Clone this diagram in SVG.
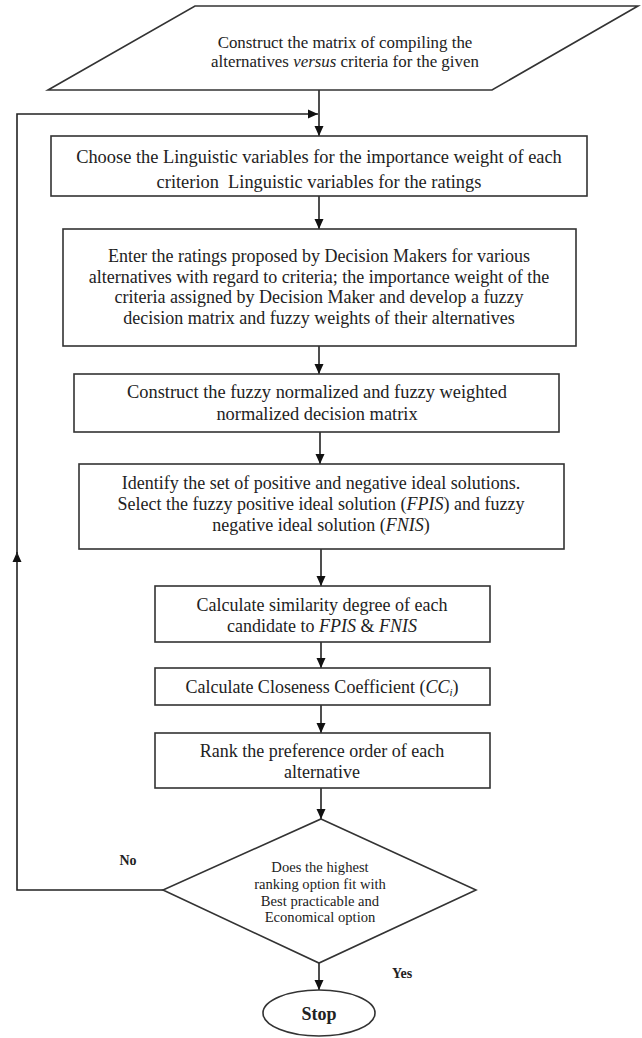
<svg xmlns="http://www.w3.org/2000/svg" width="642" height="1038" viewBox="0 0 642 1038">
<style>
.shape{fill:#fff;stroke:#333;stroke-width:1.6}
.conn{fill:none;stroke:#222;stroke-width:1.6}
.t{font-family:"Liberation Serif","Times New Roman",serif;fill:#222;text-anchor:middle}
.b18{font-size:18px}
.b1{font-size:18.4px}
.p{font-size:16.9px}
.d{font-size:14.6px}
.lbl{font-size:14px;font-weight:bold}
.it{font-style:italic}
</style>
<defs>
<marker id="ah" viewBox="0 0 10 10" refX="10" refY="5" markerWidth="10" markerHeight="10" markerUnits="userSpaceOnUse" orient="auto">
<path d="M0,0.5 L10,5 L0,9.5 Z" fill="#111"/>
</marker>
</defs>
<rect width="642" height="1038" fill="#fff"/>

<g id="connectors">
<line class="conn" x1="319" y1="90" x2="319" y2="136" marker-end="url(#ah)"/>
<line class="conn" x1="319" y1="196" x2="319" y2="229" marker-end="url(#ah)"/>
<line class="conn" x1="319" y1="346" x2="319" y2="374" marker-end="url(#ah)"/>
<line class="conn" x1="320" y1="432" x2="320" y2="464" marker-end="url(#ah)"/>
<line class="conn" x1="321" y1="549" x2="321" y2="586" marker-end="url(#ah)"/>
<line class="conn" x1="321" y1="642" x2="321" y2="668" marker-end="url(#ah)"/>
<line class="conn" x1="321" y1="705" x2="321" y2="733" marker-end="url(#ah)"/>
<line class="conn" x1="321" y1="788" x2="321" y2="819" marker-end="url(#ah)"/>
<line class="conn" x1="319" y1="963" x2="319" y2="990" marker-end="url(#ah)"/>
<path class="conn" d="M163,890 H17 V552" marker-end="url(#ah)"/>
<path class="conn" d="M17,556 V114 H318" marker-end="url(#ah)"/>
</g>

<g id="input">
<polygon class="shape" points="195,6 638,6 492,90 48,90"/>
<text class="t p" x="345" y="48">Construct the matrix of compiling the</text>
<text class="t p" x="345" y="67">alternatives <tspan class="it">versus</tspan> criteria for the given</text>
</g>

<g id="box1">
<rect class="shape" x="51" y="136" width="536" height="60"/>
<text class="t b1" x="319" y="163">Choose the Linguistic variables for the importance weight of each</text>
<text class="t b1" x="319" y="188" xml:space="preserve">criterion  Linguistic variables for the ratings</text>
</g>

<g id="box2">
<rect class="shape" x="63" y="229" width="513" height="117"/>
<text class="t b18" x="319" y="262">Enter the ratings proposed by Decision Makers for various</text>
<text class="t b18" x="319" y="282.5">alternatives with regard to criteria; the importance weight of the</text>
<text class="t b18" x="319" y="303">criteria assigned by Decision Maker and develop a fuzzy</text>
<text class="t b18" x="319" y="323.5">decision matrix and fuzzy weights of their alternatives</text>
</g>

<g id="box3">
<rect class="shape" x="74" y="374" width="485" height="58"/>
<text class="t b1" x="317" y="398">Construct the fuzzy normalized and fuzzy weighted</text>
<text class="t b1" x="317" y="420">normalized decision matrix</text>
</g>

<g id="box4">
<rect class="shape" x="79" y="464" width="485" height="85"/>
<text class="t b18" x="321" y="489">Identify the set of positive and negative ideal solutions.</text>
<text class="t b18" x="321" y="510">Select the fuzzy positive ideal solution (<tspan class="it">FPIS</tspan>) and fuzzy</text>
<text class="t b18" x="321" y="531">negative ideal solution (<tspan class="it">FNIS</tspan>)</text>
</g>

<g id="box5">
<rect class="shape" x="155" y="586" width="335" height="56"/>
<text class="t b18" x="322" y="611">Calculate similarity degree of each</text>
<text class="t b18" x="322" y="632">candidate to <tspan class="it">FPIS</tspan> &amp; <tspan class="it">FNIS</tspan></text>
</g>

<g id="box6">
<rect class="shape" x="155" y="668" width="335" height="37"/>
<text class="t b18" x="322" y="693">Calculate Closeness Coefficient (<tspan class="it">CC</tspan><tspan class="it" font-size="11" dy="3">i</tspan><tspan dy="-3">)</tspan></text>
</g>

<g id="box7">
<rect class="shape" x="155" y="733" width="335" height="55"/>
<text class="t b18" x="322" y="757">Rank the preference order of each</text>
<text class="t b18" x="322" y="778">alternative</text>
</g>

<g id="decision">
<polygon class="shape" points="321,819 476,890 319,963 163,890"/>
<text class="t d" x="320" y="872">Does the highest</text>
<text class="t d" x="320" y="889">ranking option fit with</text>
<text class="t d" x="320" y="906">Best practicable and</text>
<text class="t d" x="320" y="922">Economical option</text>
</g>

<g id="stop">
<ellipse class="shape" cx="319" cy="1013" rx="56" ry="23"/>
<text class="t" x="319" y="1020" font-size="18" font-weight="bold">Stop</text>
</g>

<g id="labels">
<text class="t lbl" x="128" y="865">No</text>
<text class="t lbl" x="402" y="978">Yes</text>
</g>
</svg>
